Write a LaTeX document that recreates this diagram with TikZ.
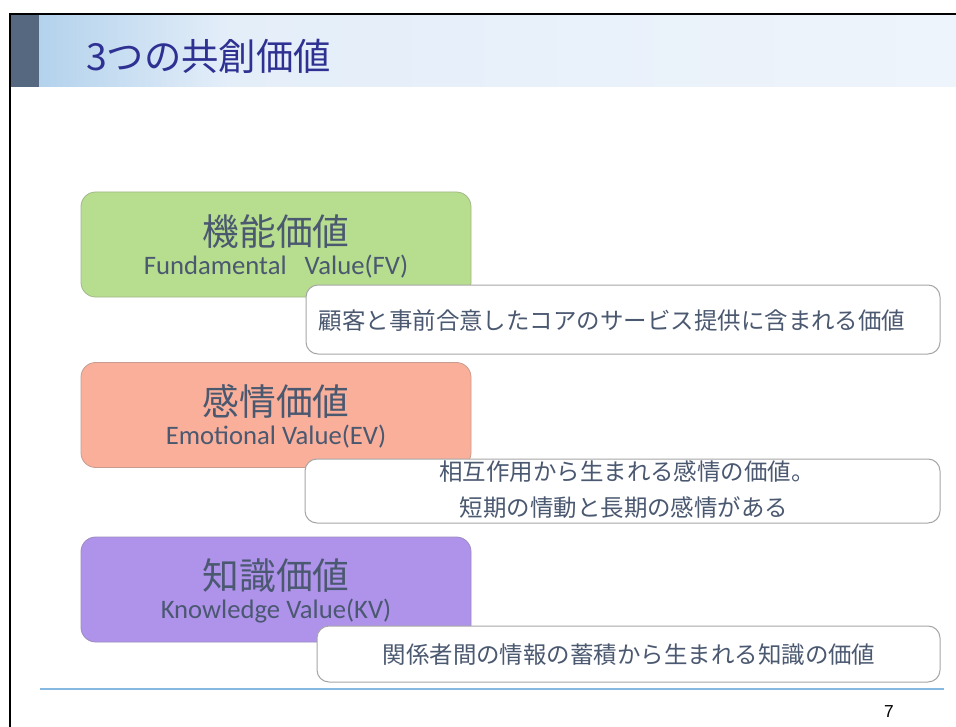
\documentclass[tikz,border=0pt]{standalone}
\usepackage{fontspec}
\setmainfont{Carlito}
\newfontfamily\jp{Noto Sans CJK JP}
\newfontfamily\num{Liberation Sans}
\definecolor{slatebar}{HTML}{56687F}
\definecolor{gradA}{HTML}{B3D2EC}
\definecolor{gradB}{HTML}{E4EEF9}
\definecolor{gradC}{HTML}{EEF4FB}
\definecolor{titleblue}{HTML}{2E3192}
\definecolor{txt}{HTML}{4A5870}
\definecolor{greenfill}{HTML}{B7DD8E}
\definecolor{salmonfill}{HTML}{F9AF9A}
\definecolor{purplefill}{HTML}{AF93EB}
\definecolor{rulecol}{HTML}{86B9E2}
\tikzset{
  valbox/.style={draw=#1!75!black!80, fill=#1, rounded corners=11pt, line width=0.6pt, minimum width=292.5pt, minimum height=78.75pt, inner sep=0pt},
  descbox/.style={draw=black!35, fill=white, rounded corners=9pt, line width=0.75pt, inner sep=0pt},
  bigjp/.style={font=\jp\fontsize{27.5}{30}\selectfont, text=txt, inner sep=0pt},
  subeng/.style={font=\fontsize{20}{22}\selectfont, text=txt, inner sep=0pt},
  descjp/.style={font=\jp\fontsize{17.6}{20}\selectfont, text=txt, inner sep=0pt},
}
\begin{document}
\begin{tikzpicture}[x=0.75pt,y=-0.75pt]
\useasboundingbox (0,0) rectangle (956,727);
\fill[white] (0,0) rectangle (956,727);
% header
\fill[slatebar] (11,15) rectangle (39,87);
\shade[left color=gradA, right color=gradB] (39,15) rectangle (230,87);
\shade[left color=gradB, right color=gradC] (229.5,15) rectangle (956,87);
\draw[black, line width=1.6pt] (10,727) -- (10,14) -- (956,14);
\node[anchor=west, font=\jp\fontsize{28}{30}\selectfont, text=titleblue, inner sep=0pt] (title) at (86,56) {3つの共創価値};
% value boxes
\node[valbox=greenfill] (fv) at (276,244.5) {};
\node[bigjp] (fvj) at (276,232) {機能価値};
\node[subeng] (fve) at (276,267) {Fundamental\ \ \ Value(FV)};
\node[descbox, minimum width=475.5pt, minimum height=51.75pt] (fvd) at (623,319.5) {};
\node[descjp] (fvdt) at (612,321) {顧客と事前合意したコアのサービス提供に含まれる価値};

\node[valbox=salmonfill] (ev) at (276,415) {};
\node[bigjp] (evj) at (276,401) {感情価値};
\node[subeng] (eve) at (276,437) {Emotional Value(EV)};
\node[descbox, minimum width=476.25pt, minimum height=48pt] (evd) at (622.5,491) {};
\node[descjp] (evdt1) at (627,472) {相互作用から生まれる感情の価値。};
\node[descjp] (evdt2) at (624,508) {短期の情動と長期の感情がある};

\node[valbox=purplefill] (kv) at (276,589.5) {};
\node[bigjp] (kvj) at (276,576) {知識価値};
\node[subeng] (kve) at (276,611) {Knowledge Value(KV)};
\node[descbox, minimum width=467.25pt, minimum height=42pt] (kvd) at (628.5,654) {};
\node[descjp] (kvdt) at (629,655) {関係者間の情報の蓄積から生まれる知識の価値};
% footer
\coordinate (r1) at (40,689);
\coordinate (r2) at (944,689);
\draw[rulecol, line width=0.9pt] (r1) -- (r2);
\node[font=\num\fontsize{13}{15}\selectfont, inner sep=0pt] (pg) at (889,712) {7};
\end{tikzpicture}
\end{document}
